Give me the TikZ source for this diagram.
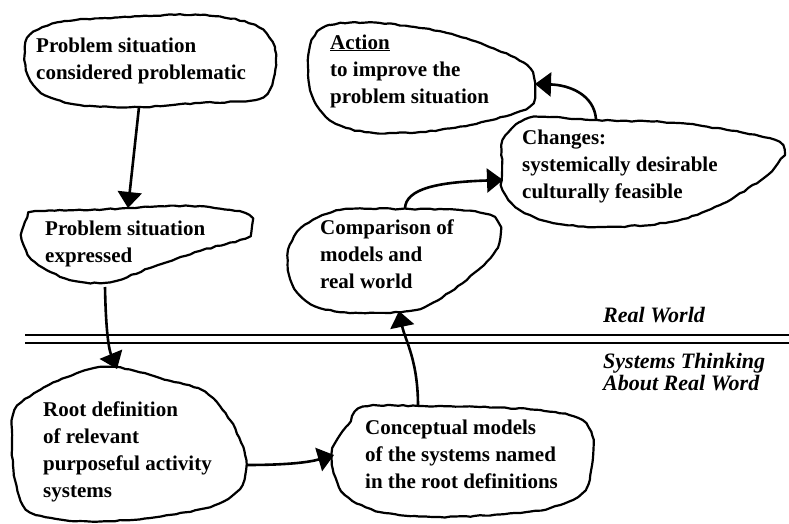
\documentclass[tikz,border=0pt]{standalone}
\usepackage{fontspec}
\setmainfont{Liberation Serif}
\usepackage{tikz}
\usetikzlibrary{arrows.meta,decorations.pathmorphing}

\begin{document}
\begin{tikzpicture}[
  x=1pt, y=-1pt,
  blob/.style={draw, line width=2.2pt, line join=round, decorate, decoration={random steps, segment length=5pt, amplitude=0.6pt}},
  txt/.style={anchor=base west, align=left, inner sep=0pt, font=\fontsize{21}{27}\selectfont\bfseries},
  zone/.style={anchor=base west, align=left, inner sep=0pt, font=\fontsize{22}{20}\selectfont\bfseries\itshape},
  arrow/.style={-{Triangle[length=16pt,width=24pt]}, line width=2.6pt}
]
  \pgfmathsetseed{7}
  \useasboundingbox[fill=white] (0,0) rectangle (789,524);

  % Blobs, upper part (real world)
  \draw[blob] plot[smooth cycle, tension=0.55] coordinates {(30,35) (60,22) (130,17) (200,15) (255,25) (275,50) (272,85) (255,100) (200,103) (140,107) (80,105) (45,95) (28,75) (25,52)};
  \draw[blob] plot[smooth cycle, tension=0.55] coordinates {(35,212) (90,210) (130,208) (190,206) (245,213) (251,226) (245,238) (200,251) (150,268) (110,282) (70,280) (35,262) (22,240) (25,222)};
  \draw[blob] plot[smooth cycle, tension=0.55] coordinates {(340,210) (400,209) (460,210) (490,215) (500,228) (496,250) (478,270) (450,292) (415,310) (360,313) (320,308) (298,293) (288,270) (290,245) (305,225)};
  \draw[blob] plot[smooth cycle, tension=0.55] coordinates {(503,140) (520,122) (540,117) (597,120) (677,123) (740,132) (775,140) (784,150) (778,163) (765,177) (720,205) (670,222) (603,227) (553,223) (520,210) (503,190) (502,165)};
  \draw[blob] plot[smooth cycle, tension=0.55] coordinates {(312,40) (330,25) (380,23) (447,33) (497,50) (527,65) (535,83) (533,103) (515,113) (470,125) (420,132) (365,132) (330,120) (312,95) (308,65)};

  % Blobs, lower part (systems thinking)
  \draw[blob] plot[smooth cycle, tension=0.55] coordinates {(15,410) (40,390) (80,372) (115,367) (160,378) (205,392) (230,420) (245,455) (242,485) (215,505) (150,518) (80,521) (30,512) (15,480) (12,440)};
  \draw[blob] plot[smooth cycle, tension=0.55] coordinates {(363,407) (420,406) (480,407) (540,410) (578,418) (592,435) (592,465) (585,490) (560,505) (520,513) (440,517) (380,512) (345,495) (333,470) (333,448) (348,425)};

  % Divider between the two worlds
  \draw[line width=2pt] (25,335) -- (789,335);
  \draw[line width=2pt] (25,343) -- (789,343);

  % Texts (anchored at the baseline of their last line)
  \node[txt] (consid) at (36,80) {Problem situation\\considered problematic};
  \node[txt] (express) at (45,262) {Problem situation\\expressed};
  \node[txt] (rootdef) at (43,497) {Root definition\\of relevant\\purposeful activity\\systems};
  \node[txt] (concept) at (365,488) {Conceptual models\\of the systems named\\in the root definitions};
  \node[txt] (compar) at (320,288) {Comparison of\\models and\\real world};
  \node[txt] (changes) at (522,198) {Changes:\\systemically desirable\\culturally feasible};
  \node[txt] (action) at (330,103) {\underline{Action}\\to improve the\\problem situation};
  \node[zone] (realw) at (603,322) {Real World};
  \node[zone] (systw) at (603,390) {Systems Thinking\\About Real Word};

  % Connection points on the blobs
  \coordinate (consid-s) at (139,107);
  \coordinate (express-n) at (128,208);
  \coordinate (express-s) at (105,287);
  \coordinate (rootdef-n) at (117,369);
  \coordinate (rootdef-e) at (246,465);
  \coordinate (concept-w) at (334,455);
  \coordinate (concept-n) at (418,406);
  \coordinate (compar-s) at (399,311);
  \coordinate (compar-n) at (405,209);
  \coordinate (changes-w) at (503,180);
  \coordinate (changes-n) at (596,119);
  \coordinate (action-e) at (535,84);

  \draw[arrow] (consid-s) -- (express-n);
  \draw[arrow] (express-s) .. controls (106,340) and (110,352) .. (rootdef-n);
  \draw[arrow] (rootdef-e) .. controls (290,465) and (310,462) .. (concept-w);
  \draw[arrow] (concept-n) .. controls (418,360) and (405,340) .. (compar-s);
  \draw[arrow] (compar-n) .. controls (405,188) and (440,182) .. (changes-w);
  \draw[arrow] (changes-n) .. controls (594,95) and (570,85) .. (action-e);
\end{tikzpicture}
\end{document}
